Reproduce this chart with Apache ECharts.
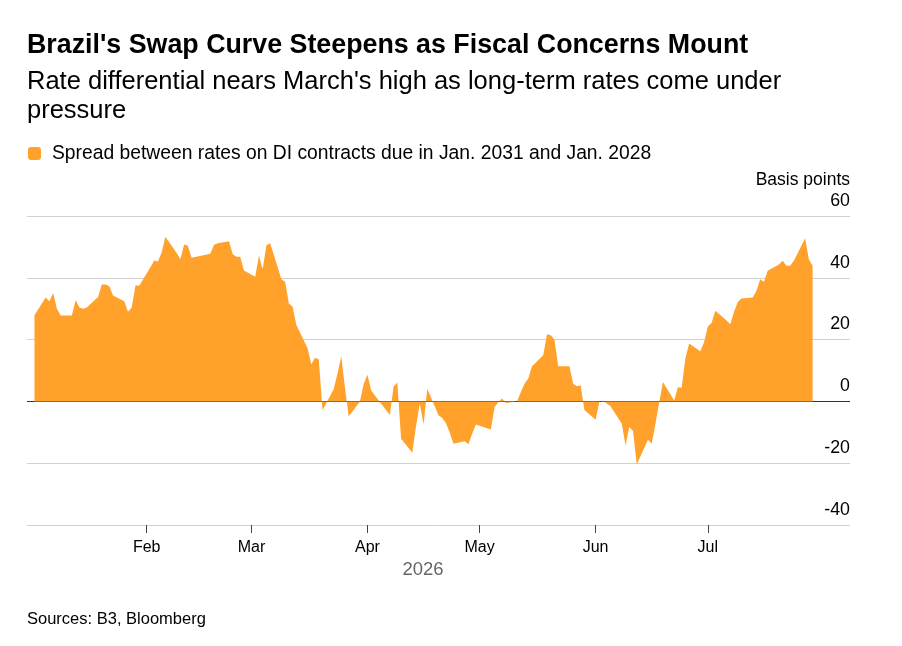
<!DOCTYPE html>
<html>
<head>
<meta charset="utf-8">
<script src="https://cdn.jsdelivr.net/npm/echarts@6/dist/echarts.min.js"></script>
<style>
  html, body { margin: 0; padding: 0; background: #fff; }
  #main { width: 902px; height: 646px; }
</style>
</head>
<body>
<div id="main"></div>
<script>
"use strict";
// trading days (2026) and the DI Jan31 - Jan28 spread, in basis points
var dates = [
    '2026-01-02', '2026-01-05', '2026-01-06', '2026-01-07', '2026-01-08', '2026-01-09',
    '2026-01-12', '2026-01-13', '2026-01-14', '2026-01-15', '2026-01-16',
    '2026-01-19', '2026-01-20', '2026-01-21', '2026-01-22', '2026-01-23',
    '2026-01-26', '2026-01-27', '2026-01-28', '2026-01-29', '2026-01-30',
    '2026-02-02', '2026-02-03', '2026-02-04', '2026-02-05', '2026-02-06',
    '2026-02-09', '2026-02-10', '2026-02-11', '2026-02-12', '2026-02-13',
    '2026-02-18', '2026-02-19', '2026-02-20',
    '2026-02-23', '2026-02-24', '2026-02-25', '2026-02-26', '2026-02-27',
    '2026-03-02', '2026-03-03', '2026-03-04', '2026-03-05', '2026-03-06',
    '2026-03-09', '2026-03-10', '2026-03-11', '2026-03-12', '2026-03-13',
    '2026-03-16', '2026-03-17', '2026-03-18', '2026-03-19', '2026-03-20',
    '2026-03-23', '2026-03-24', '2026-03-25', '2026-03-26', '2026-03-27',
    '2026-03-30', '2026-03-31', '2026-04-01', '2026-04-02',
    '2026-04-06', '2026-04-07', '2026-04-08', '2026-04-09', '2026-04-10',
    '2026-04-13', '2026-04-14', '2026-04-15', '2026-04-16', '2026-04-17',
    '2026-04-20', '2026-04-21', '2026-04-22', '2026-04-23', '2026-04-24',
    '2026-04-27', '2026-04-28', '2026-04-29', '2026-04-30',
    '2026-05-04', '2026-05-05', '2026-05-06', '2026-05-07', '2026-05-08',
    '2026-05-11', '2026-05-12', '2026-05-13', '2026-05-14', '2026-05-15',
    '2026-05-18', '2026-05-19', '2026-05-20', '2026-05-21', '2026-05-22',
    '2026-05-25', '2026-05-26', '2026-05-27', '2026-05-28', '2026-05-29',
    '2026-06-01', '2026-06-02', '2026-06-03', '2026-06-05',
    '2026-06-08', '2026-06-09', '2026-06-10', '2026-06-11', '2026-06-12',
    '2026-06-15', '2026-06-16', '2026-06-17', '2026-06-18', '2026-06-19',
    '2026-06-22', '2026-06-23', '2026-06-24', '2026-06-25', '2026-06-26',
    '2026-06-29', '2026-06-30', '2026-07-01', '2026-07-02', '2026-07-03',
    '2026-07-06', '2026-07-07', '2026-07-08', '2026-07-09', '2026-07-10',
    '2026-07-13', '2026-07-14', '2026-07-15', '2026-07-16', '2026-07-17',
    '2026-07-20', '2026-07-21', '2026-07-22', '2026-07-23', '2026-07-24',
    '2026-07-27', '2026-07-28', '2026-07-29'
];
var spread = [
    27.9, 33.6, 32.4, 35.1, 30.0, 27.8,
    27.8, 32.8, 30.4, 30.0, 30.4,
    33.8, 37.8, 37.8, 37.3, 34.3,
    32.4, 29.0, 30.4, 37.6, 37.4,
    43.4, 45.6, 45.3, 48.2, 53.3,
    48.0, 46.0, 50.8, 50.4, 46.5,
    47.8, 50.7, 51.2,
    51.8, 47.6, 46.8, 46.8, 42.4,
    40.3, 47.1, 42.8, 50.5, 51.2,
    39.5, 38.7, 31.7, 30.6, 24.7,
    17.2, 12.0, 14.1, 13.6, -2.9,
    4.0, 9.0, 14.6, 4.5, -4.9,
    0.0, 5.6, 8.6, 3.5,
    -2.9, -4.4, 4.8, 6.1, -12.1,
    -16.6, -8.0, -0.7, -7.5, 4.1,
    -4.5, -5.4, -7.1, -10.1, -13.7,
    -12.9, -13.9, -10.5, -7.5,
    -9.1, -1.8, -0.3, 0.9, -0.5,
    0.0, 3.0, 5.7, 7.4, 11.4,
    14.9, 21.7, 21.4, 20.0, 11.4,
    11.4, 5.7, 4.9, 5.2, -2.8,
    -5.9, -0.1, 0.2, -1.6,
    -7.2, -14.3, -8.3, -9.6, -20.4,
    -12.4, -13.7, -7.2, -0.3, 6.3,
    0.3, 4.6, 4.4, 14.0, 18.7,
    16.2, 19.2, 24.2, 25.4, 29.3,
    26.2, 25.0, 29.0, 32.2, 33.3,
    33.6, 35.8, 39.5, 38.7, 42.3,
    44.3, 45.5, 43.9, 43.9, 45.5,
    52.8, 46.0, 43.9
];
var monthTicks = ['2026-02-01', '2026-03-01', '2026-04-01', '2026-05-01', '2026-06-01', '2026-07-01'];
var monthNames = ['Jan', 'Feb', 'Mar', 'Apr', 'May', 'Jun', 'Jul', 'Aug', 'Sep', 'Oct', 'Nov', 'Dec'];

var font = 'Liberation Sans, Arial, sans-serif';
var orange = '#ffa12b';
var seriesName = 'Spread between rates on DI contracts due in Jan. 2031 and Jan. 2028';

function toTime(s) {
    var p = s.split('-');
    return new Date(+p[0], +p[1] - 1, +p[2]).getTime();
}

var chartDom = document.getElementById('main');
var myChart = echarts.init(chartDom, null, { renderer: 'canvas' });

var seriesData = dates.map(function (d, i) { return [toTime(d), spread[i]]; });
var tickTimes = monthTicks.map(toTime);

var option = {
    animation: false,
    backgroundColor: '#fff',
    textStyle: { fontFamily: font },
    title: [
        {
            text: "Brazil's Swap Curve Steepens as Fiscal Concerns Mount",
            left: 22, top: 27,
            textStyle: { fontFamily: font, fontSize: 26.8, fontWeight: 'bold', color: '#000' }
        },
        {
            text: "Rate differential nears March's high as long-term rates come under\npressure",
            left: 22, top: 62,
            textStyle: { fontFamily: font, fontSize: 25.5, fontWeight: 'normal', color: '#000', lineHeight: 29.5 }
        },
        {
            text: 'Basis points',
            right: 47, top: 166,
            textStyle: { fontFamily: font, fontSize: 17.5, fontWeight: 'normal', color: '#000' }
        },
        {
            text: 'Sources: B3, Bloomberg',
            left: 22, top: 606,
            textStyle: { fontFamily: font, fontSize: 16.5, fontWeight: 'normal', color: '#000' }
        }
    ],
    graphic: [{
        type: 'text',
        x: 423, y: 570,
        style: {
            text: '2026', align: 'center', verticalAlign: 'middle',
            fontFamily: font, fontSize: 18.5, fill: '#666'
        }
    }],
    legend: {
        left: 23, top: 139,
        icon: 'roundRect',
        itemWidth: 13, itemHeight: 13,
        textStyle: { fontFamily: font, fontSize: 19.3, color: '#000', padding: [0, 0, 0, 6] },
        data: [seriesName]
    },
    grid: { left: 27, right: 52, top: 216, bottom: 121, containLabel: false },
    xAxis: {
        type: 'value',
        min: toTime('2025-12-31'),
        max: toTime('2026-08-08'),
        axisLine: { show: false, onZero: false },
        axisTick: {
            show: true, length: 8,
            customValues: tickTimes,
            lineStyle: { color: '#444', width: 1 }
        },
        axisLabel: {
            customValues: tickTimes,
            formatter: function (v) { return monthNames[new Date(v).getMonth()]; },
            fontFamily: font, fontSize: 16, color: '#000', margin: 15
        },
        splitLine: { show: false }
    },
    yAxis: {
        type: 'value',
        position: 'right',
        min: -40, max: 60, interval: 20,
        axisLine: { show: false },
        axisTick: { show: false },
        axisLabel: {
            inside: true, margin: 0,
            align: 'right', verticalAlign: 'bottom',
            padding: [0, 0, 6, 0],
            fontFamily: font, fontSize: 17.8, color: '#000'
        },
        splitLine: {
            show: true,
            lineStyle: { color: ['#d0d0d0', '#d0d0d0', '#333', '#d0d0d0', '#d0d0d0', '#d0d0d0'], width: 1 }
        }
    },
    series: [{
        name: seriesName,
        type: 'line',
        data: seriesData,
        showSymbol: false,
        symbol: 'none',
        itemStyle: { color: orange },
        lineStyle: { width: 0 },
        areaStyle: { color: orange, opacity: 1, origin: 0 }
    }]
};

myChart.setOption(option);
</script>
</body>
</html>
